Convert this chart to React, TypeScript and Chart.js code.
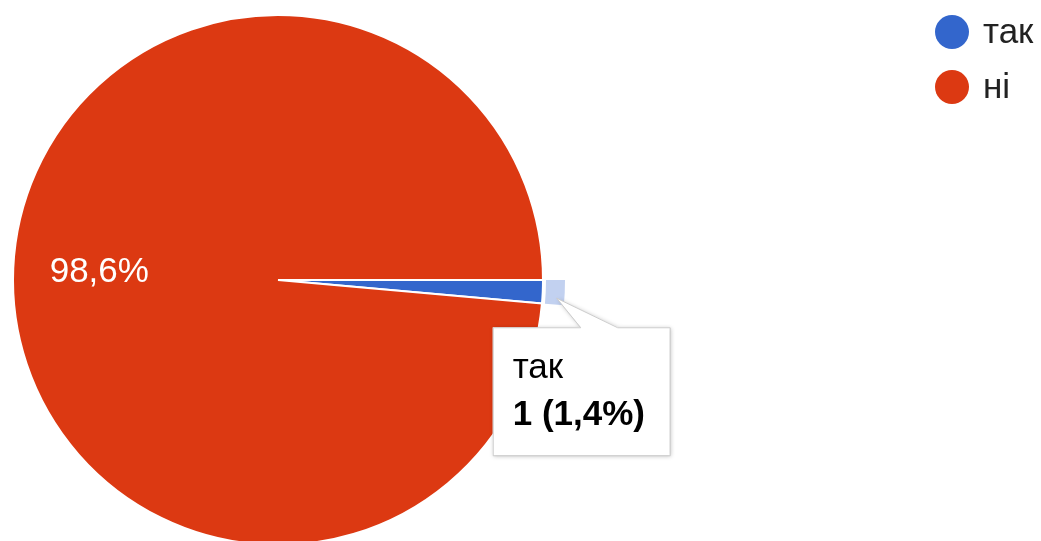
import React, { useEffect, useRef } from "react";
import { Chart, registerables } from "chart.js";

Chart.register(...registerables);

const categories: string[] = ["так", "ні"];
const counts: number[] = [1, 70];
const sliceColors: string[] = ["#3366cc", "#dc3912"];
const highlightColor = "#c2d1f0";
const highlightIndex = 0;

const FONT = '"Liberation Sans", Arial, sans-serif';

const fmtPct = (v: number, total: number) =>
  ((v / total) * 100).toFixed(1).replace(".", ",") + "%";

const googlePlugin = {
  id: "googleStyle",
  afterDatasetsDraw(chart: any) {
    const ctx: CanvasRenderingContext2D = chart.ctx;
    const meta = chart.getDatasetMeta(0);
    const data: number[] = chart.data.datasets[0].data;
    const total = data.reduce((a, b) => a + b, 0);
    ctx.save();
    // slice labels
    meta.data.forEach((arc: any, i: number) => {
      const p = arc.getProps(["x", "y", "startAngle", "endAngle", "outerRadius"], true);
      const pct = (data[i] / total) * 100;
      if (pct < 5) return;
      const mid = (p.startAngle + p.endAngle) / 2;
      const r = p.outerRadius * 0.675;
      ctx.fillStyle = "#ffffff";
      ctx.font = `35px ${FONT}`;
      ctx.textAlign = "center";
      ctx.textBaseline = "middle";
      ctx.fillText(fmtPct(data[i], total), p.x + Math.cos(mid) * r, p.y + Math.sin(mid) * r);
    });
    // highlight ring + tooltip on hovered slice
    const arc = meta.data[highlightIndex];
    if (arc) {
      const p = arc.getProps(["x", "y", "startAngle", "endAngle", "outerRadius"], true);
      ctx.beginPath();
      ctx.arc(p.x, p.y, p.outerRadius + 3, p.startAngle, p.endAngle);
      ctx.arc(p.x, p.y, p.outerRadius + 22, p.endAngle, p.startAngle, true);
      ctx.closePath();
      ctx.fillStyle = highlightColor;
      ctx.fill();

      const mid = (p.startAngle + p.endAngle) / 2;
      const ar = p.outerRadius + 12;
      const tipX = p.x + Math.cos(mid) * ar + 2;
      const tipY = p.y + Math.sin(mid) * ar + 6;
      const bx = tipX - 64;
      const by = tipY + 29;
      const bw = 177;
      const bh = 128;
      const c1 = tipX + 24;
      const c2 = tipX + 61;
      // box with shadow
      ctx.save();
      ctx.shadowColor = "rgba(0,0,0,0.25)";
      ctx.shadowBlur = 4;
      ctx.shadowOffsetX = 1;
      ctx.shadowOffsetY = 1;
      ctx.beginPath();
      ctx.moveTo(bx, by);
      ctx.lineTo(c1, by);
      ctx.lineTo(tipX, tipY);
      ctx.lineTo(c2, by);
      ctx.lineTo(bx + bw, by);
      ctx.lineTo(bx + bw, by + bh);
      ctx.lineTo(bx, by + bh);
      ctx.closePath();
      ctx.fillStyle = "#ffffff";
      ctx.fill();
      ctx.restore();
      ctx.beginPath();
      ctx.moveTo(bx + 0.5, by + 0.5);
      ctx.lineTo(c1, by + 0.5);
      ctx.lineTo(tipX, tipY);
      ctx.lineTo(c2, by + 0.5);
      ctx.lineTo(bx + bw + 0.5, by + 0.5);
      ctx.lineTo(bx + bw + 0.5, by + bh + 0.5);
      ctx.lineTo(bx + 0.5, by + bh + 0.5);
      ctx.closePath();
      ctx.strokeStyle = "#cccccc";
      ctx.lineWidth = 1;
      ctx.stroke();

      ctx.fillStyle = "#000000";
      ctx.textAlign = "left";
      ctx.textBaseline = "alphabetic";
      ctx.font = `35px ${FONT}`;
      ctx.fillText(chart.data.labels[highlightIndex], bx + 20, by + 51);
      ctx.font = `bold 35px ${FONT}`;
      ctx.fillText(
        `${data[highlightIndex]} (${fmtPct(data[highlightIndex], total)})`,
        bx + 20,
        by + 98
      );
    }
    // legend
    const colors: string[] = chart.data.datasets[0].backgroundColor;
    (chart.data.labels as string[]).forEach((lab: string, i: number) => {
      const cy = 32 + i * 55;
      const cx = 952;
      ctx.beginPath();
      ctx.arc(cx, cy, 17, 0, Math.PI * 2);
      ctx.fillStyle = colors[i];
      ctx.fill();
      ctx.fillStyle = "#222222";
      ctx.font = `35px ${FONT}`;
      ctx.textAlign = "left";
      ctx.textBaseline = "middle";
      ctx.fillText(lab, 983, cy + 1);
    });
    ctx.restore();
  },
};

export default function App() {
  const ref = useRef<HTMLCanvasElement | null>(null);
  useEffect(() => {
    document.body.style.margin = "0";
    const canvas = ref.current;
    if (!canvas) return;
    const chart = new Chart(canvas, {
      type: "pie",
      data: {
        labels: categories,
        datasets: [
          {
            data: counts,
            backgroundColor: sliceColors,
            borderColor: "#ffffff",
            borderWidth: 2,
          },
        ],
      },
      options: {
        responsive: false,
        animation: false,
        events: [],
        rotation: 90,
        layout: { padding: { left: 12, top: 14, right: 497, bottom: 14 } },
        plugins: {
          legend: { display: false },
          tooltip: { enabled: false },
        },
      },
      plugins: [googlePlugin],
    });
    return () => chart.destroy();
  }, []);
  return (
    <div
      style={{
        position: "absolute",
        left: 0,
        top: 0,
        width: 1041,
        height: 541,
        overflow: "hidden",
        background: "#ffffff",
      }}
    >
      <canvas ref={ref} width={1041} height={560} style={{ display: "block" }} />
    </div>
  );
}
